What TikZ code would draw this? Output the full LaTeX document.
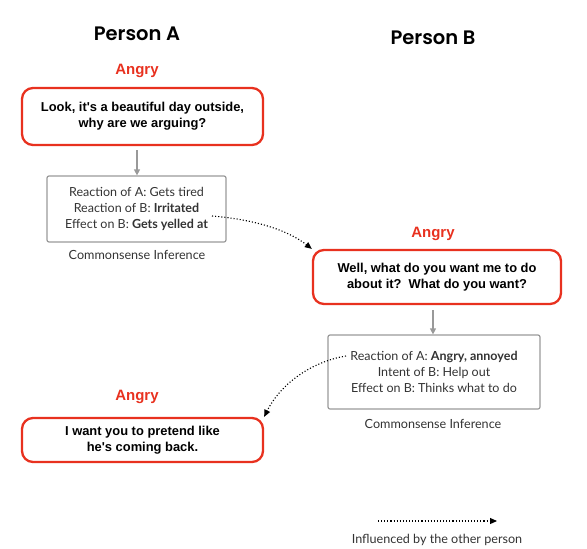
\documentclass[tikz,border=0pt]{standalone}
\usepackage{fontspec}
\setmainfont{Liberation Sans}[Ligatures=TeXOff]
\newfontfamily\hdrfont{Poppins}[UprightFont=* SemiBold]
\newfontfamily\inffont{Lato}
\usetikzlibrary{arrows.meta}
\definecolor{angryred}{HTML}{E8311F}
\definecolor{boxgray}{HTML}{999999}
\definecolor{txtgray}{HTML}{333333}
\tikzset{
  header/.style={font=\hdrfont\fontsize{19.5}{23}\selectfont},
  emo/.style={font=\bfseries\fontsize{15}{17}\selectfont, text=angryred},
  utter/.style={draw=angryred, line width=2.3pt, rounded corners=11pt, align=center,
    font=\bfseries\fontsize{12.9}{16}\selectfont, inner sep=0pt},
  infer/.style={draw=boxgray, line width=1.2pt, rounded corners=2pt, align=center,
    font=\inffont\fontsize{12.5}{16}\selectfont, text=txtgray, inner sep=0pt},
  captext/.style={font=\inffont\fontsize{12.6}{14}\selectfont, text=txtgray},
  grayarrow/.style={draw=boxgray, line width=1.2pt, -{Triangle[length=6pt,width=6pt]}},
  infarrow/.style={line width=1.1pt, dotted, -{Triangle[length=7pt,width=6pt]}}
}
\begin{document}
\begin{tikzpicture}[x=1pt,y=-1pt]
\useasboundingbox (0,0) rectangle (587,549);
\node[header] (pa) at (137,34) {Person A};
\node[header] (pb) at (433,38) {Person B};

% A1
\node[emo] (e1) at (137,71) {Angry};
\node[utter, minimum width=241pt, minimum height=57pt] (u1) at (142.5,116.5)
  {Look, it's a beautiful day outside,\\why are we arguing?};
\node[infer, minimum width=179pt, minimum height=66pt] (i1) at (136.5,209)
  {Reaction of A: Gets tired\\Reaction of B: \textbf{Irritated}\\Effect on B: \textbf{Gets yelled at}};
\node[captext] (c1) at (137,255) {Commonsense Inference};
\draw[grayarrow] (137,150) -- (i1.north -| 137,0);

% B
\node[emo] (e2) at (433,234) {Angry};
\node[utter, minimum width=248pt, minimum height=54pt] (u2) at (437,277)
  {Well, what do you want me to do\\about it?\ \ What do you want?};
\node[infer, minimum width=212pt, minimum height=74pt] (i2) at (434,372)
  {Reaction of A: \textbf{Angry, annoyed}\\Intent of B: Help out\\Effect on B: Thinks what to do};
\node[captext] (c2) at (433,424) {Commonsense Inference};
\draw[grayarrow] (433,310) -- (i2.north -| 433,0);

% A2
\node[emo] (e3) at (137,397) {Angry};
\node[utter, minimum width=241pt, minimum height=44pt] (u3) at (142.5,440)
  {I want you to pretend like\\he's coming back.};

% influence arrows
\coordinate (s1) at (212,216);
\coordinate (s2) at (346,356);
\draw[infarrow] (s1) .. controls (260,220) and (290,232) .. (u2.north west);
\draw[infarrow] (s2) .. controls (310,362) and (280,385) .. (u3.north east);

% legend
\coordinate (l1) at (378,521);
\coordinate (l2) at (497,521);
\draw[infarrow] (l1) -- (l2);
\node[captext] (lt) at (437,540) {Influenced by the other person};
\end{tikzpicture}
\end{document}
